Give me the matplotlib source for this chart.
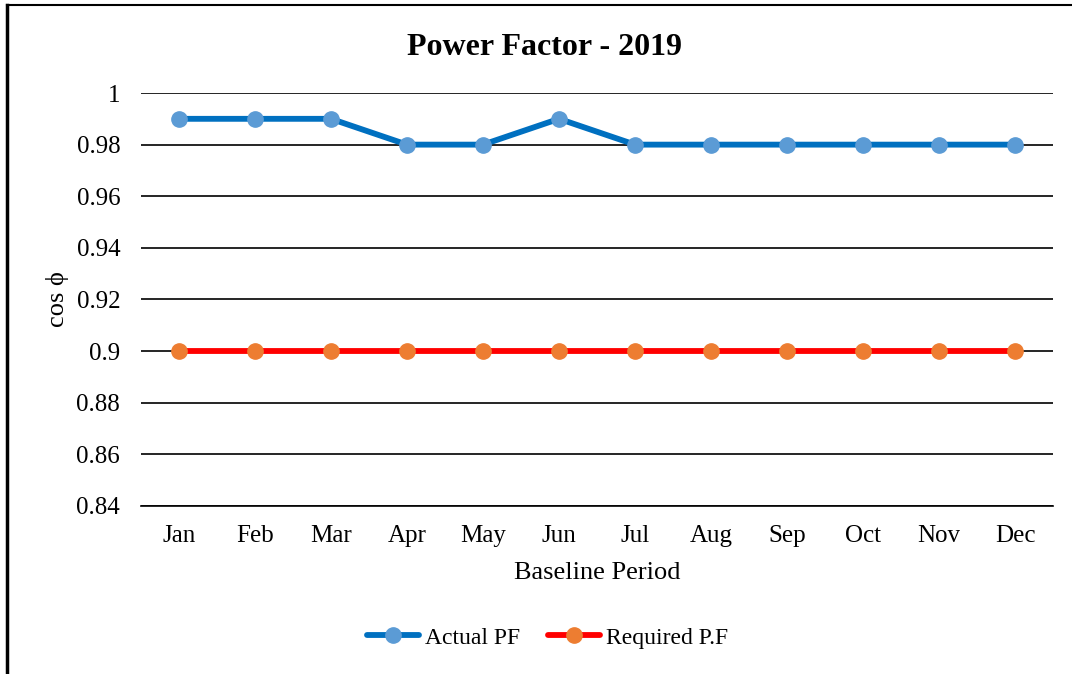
import matplotlib
matplotlib.use("Agg")
import matplotlib.pyplot as plt
from matplotlib.lines import Line2D

plt.rcParams['font.family'] = ['Liberation Serif', 'DejaVu Serif']

months = ['Jan', 'Feb', 'Mar', 'Apr', 'May', 'Jun', 'Jul', 'Aug', 'Sep', 'Oct', 'Nov', 'Dec']
actual_pf = [0.99, 0.99, 0.99, 0.98, 0.98, 0.99, 0.98, 0.98, 0.98, 0.98, 0.98, 0.98]
required_pf = [0.90] * 12
y_ticks = [0.84, 0.86, 0.88, 0.90, 0.92, 0.94, 0.96, 0.98, 1.00]
y_labels = ['0.84', '0.86', '0.88', '0.9', '0.92', '0.94', '0.96', '0.98', '1']

fig = plt.figure(figsize=(10.72, 6.74), dpi=100)
ax = fig.add_axes([0.1315, 0.2493, 0.8508, 0.6127])

x = list(range(len(months)))
ax.plot(x, actual_pf, color='#0070C0', lw=4.2, marker='o', ms=11,
        mfc='#5B9BD5', mec='#5B9BD5', label='Actual PF', zorder=3,
        solid_capstyle='round')
ax.plot(x, required_pf, color='#FF0000', lw=4.2, marker='o', ms=11,
        mfc='#ED7D31', mec='#ED7D31', label='Required P.F', zorder=3,
        solid_capstyle='round')

ax.set_xlim(-0.5, len(months) - 0.5)
ax.set_ylim(0.84, 1.0)
ax.set_yticks(y_ticks)
ax.set_yticklabels(y_labels)
ax.set_xticks(x)
ax.set_xticklabels(months)
ax.tick_params(length=0, labelsize=18)
ax.tick_params(axis='x', pad=13.5)
ax.tick_params(axis='y', pad=15)
ax.grid(axis='y', color='black', lw=1.2, zorder=1)
for s in ['top', 'right', 'left']:
    ax.spines[s].set_visible(False)
ax.spines['bottom'].set_color('black')
ax.spines['bottom'].set_linewidth(1.2)

ax.set_xlabel('Baseline Period', fontsize=19, labelpad=11)
ax.set_ylabel('cos ϕ', fontsize=19, labelpad=5)
fig.text(0.508, 0.930, 'Power Factor - 2019', ha='center', va='center',
         fontsize=23, fontweight='bold')

ax.legend(loc='center', bbox_to_anchor=(0.4457, -0.3197), ncol=2, frameon=False,
          fontsize=17, handlelength=2.2, handletextpad=0.25, columnspacing=1.2)

# chart border (only left and top edges visible in the crop)
fig.add_artist(Line2D([0.0065, 0.0065], [0, 0.993], color='black', lw=2.5,
                      transform=fig.transFigure))
fig.add_artist(Line2D([0.0065, 1.0], [0.993, 0.993], color='black', lw=1.5,
                      transform=fig.transFigure))

fig.savefig('out.png', dpi=100)
